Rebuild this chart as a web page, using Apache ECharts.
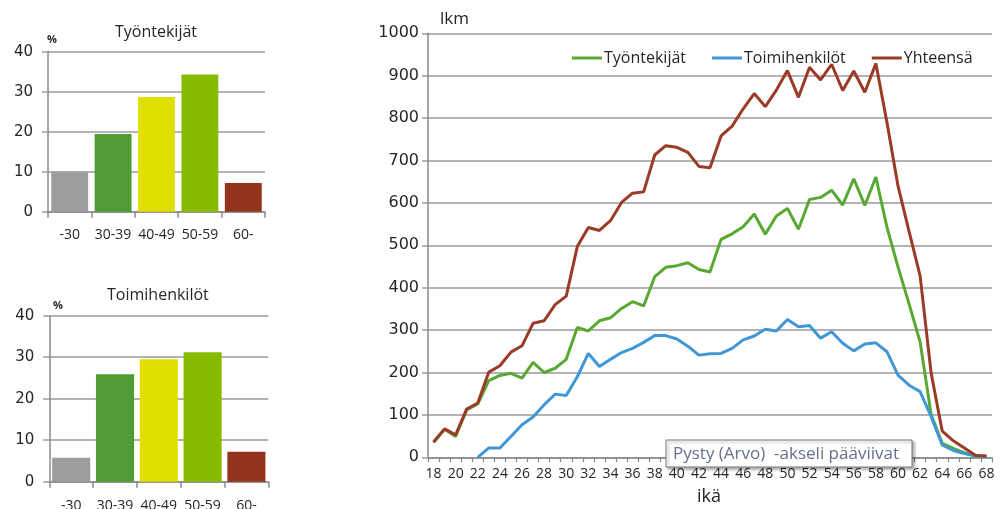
<!DOCTYPE html>
<html>
<head>
<meta charset="utf-8">
<script src="https://cdn.jsdelivr.net/npm/echarts@6/dist/echarts.min.js"></script>
<style>
  html, body { margin: 0; padding: 0; background: #ffffff; }
  #chart { width: 1002px; height: 509px; }
</style>
</head>
<body>
<div id="chart"></div>
<script>
// Age distribution of staff: share per age band (two small bar charts)
// and head count per single year of age (line chart).

const ageBands = ['-30', '30-39', '40-49', '50-59', '60-'];
const workersShare = [10.0, 19.4, 28.7, 34.3, 7.2];     // Työntekijät, %
const officialsShare = [5.8, 25.9, 29.5, 31.2, 7.2];    // Toimihenkilöt, %

const ages = ['18','19','20','21','22','23','24','25','26','27','28','29','30',
  '31','32','33','34','35','36','37','38','39','40','41','42','43','44','45',
  '46','47','48','49','50','51','52','53','54','55','56','57','58','59','60',
  '61','62','63','64','65','66','67','68'];

const workers = [35, 66, 49, 112, 126, 181, 193, 198, 187, 224, 200, 210, 231,
  306, 298, 322, 329, 351, 367, 357, 426, 448, 452, 459, 443, 437, 514, 527,
  544, 574, 526, 569, 587, 538, 608, 613, 630, 595, 657, 594, 661, 543, 449,
  362, 272, 100, 33, 21, 11, 3, 2];

const officials = [null, null, null, null, 0, 22, 22, 49, 77, 95, 124, 149, 146,
  190, 245, 214, 231, 247, 257, 271, 287, 287, 279, 262, 241, 244, 245, 257,
  277, 286, 302, 298, 325, 308, 311, 281, 296, 269, 251, 267, 270, 249, 194,
  170, 155, 96, 29, 16, 9, 3, 1];

const total = [36, 67, 53, 114, 128, 201, 216, 248, 263, 316, 322, 360, 380,
  497, 542, 535, 558, 601, 623, 626, 713, 735, 731, 719, 686, 683, 758, 781,
  822, 858, 827, 866, 912, 849, 920, 890, 927, 865, 911, 861, 929, 790, 640,
  533, 428, 198, 62, 39, 22, 5, 3];

const seriesNames = ['Työntekijät', 'Toimihenkilöt', 'Yhteensä'];
const yTicksMain = [0, 1000, 100];
const yTicksSmall = [0, 40, 10];

// styling
const bandColors = ['#9d9d9d', '#4f9c34', '#e1df00', '#86bb00', '#93341f'];
const lineColors = ['#58a832', '#3f97d5', '#9b3a26'];
const gridColor = '#9a9a9a';
const axisColor = '#8a8a8a';
const textColor = '#262626';
const sans = '"Open Sans", "Noto Sans", sans-serif';
const numFont = '"DejaVu Sans", sans-serif';
const plain = v => String(v);

function barData(values) {
  return values.map((v, i) => ({ value: v, itemStyle: { color: bandColors[i] } }));
}

function smallY(gridIndex) {
  return {
    type: 'value', gridIndex,
    min: yTicksSmall[0], max: yTicksSmall[1], interval: yTicksSmall[2],
    axisLine: { show: true, lineStyle: { color: axisColor, width: 1.5 } },
    axisTick: { show: true, length: 6, lineStyle: { color: gridColor, width: 1.5 } },
    axisLabel: { fontFamily: numFont, fontSize: 15, color: textColor, margin: 15, formatter: plain },
    splitLine: { lineStyle: { color: gridColor, width: 1.5 } }
  };
}

function smallX(gridIndex, margin) {
  return {
    type: 'category', gridIndex, data: ageBands,
    axisLine: { lineStyle: { color: axisColor, width: 1.5 } },
    axisTick: { show: true, length: 6, lineStyle: { color: axisColor, width: 1.5 } },
    axisLabel: { fontFamily: sans, fontSize: 14, color: textColor, margin, interval: 0 }
  };
}

const chart = echarts.init(document.getElementById('chart'), null, { renderer: 'canvas' });

chart.setOption({
  animation: false,
  backgroundColor: '#ffffff',
  textStyle: { fontFamily: sans },
  grid: [
    { left: 428, top: 33.3, width: 564, height: 424, outerBoundsMode: 'none' },
    { left: 48, top: 51.7, width: 217, height: 160, outerBoundsMode: 'none' },
    { left: 49.3, top: 315.7, width: 219, height: 166, outerBoundsMode: 'none' }
  ],
  legend: {
    data: seriesNames,
    left: 567, top: 45,
    icon: 'rect', itemWidth: 30, itemHeight: 3, itemGap: 26,
    textStyle: { fontFamily: sans, fontSize: 16, color: textColor, padding: [0, 0, 0, -3] }
  },
  xAxis: [
    {
      type: 'category', gridIndex: 0, data: ages, boundaryGap: true,
      axisLine: { lineStyle: { color: axisColor, width: 1.5 } },
      axisTick: { show: true, interval: 0, length: 5, lineStyle: { color: axisColor, width: 1.2 } },
      axisLabel: { interval: 1, fontFamily: sans, fontSize: 14, color: textColor, margin: 10 }
    },
    smallX(1, 16),
    smallX(2, 17)
  ],
  yAxis: [
    {
      type: 'value', gridIndex: 0,
      min: yTicksMain[0], max: yTicksMain[1], interval: yTicksMain[2],
      axisLine: { show: true, lineStyle: { color: axisColor, width: 1.5 } },
      axisTick: { show: true, length: 6, lineStyle: { color: gridColor, width: 1.5 } },
      axisLabel: { fontFamily: numFont, fontSize: 16, color: textColor, margin: 9, formatter: plain },
      splitLine: { lineStyle: { color: gridColor, width: 1.5 } }
    },
    smallY(1),
    smallY(2)
  ],
  series: [
    {
      name: seriesNames[0], type: 'line', xAxisIndex: 0, yAxisIndex: 0,
      data: workers, showSymbol: false, symbol: 'none',
      lineStyle: { color: lineColors[0], width: 3 }, itemStyle: { color: lineColors[0] }, z: 3
    },
    {
      name: seriesNames[1], type: 'line', xAxisIndex: 0, yAxisIndex: 0,
      data: officials, showSymbol: false, symbol: 'none',
      lineStyle: { color: lineColors[1], width: 3 }, itemStyle: { color: lineColors[1] }, z: 4
    },
    {
      name: seriesNames[2], type: 'line', xAxisIndex: 0, yAxisIndex: 0,
      data: total, showSymbol: false, symbol: 'none',
      lineStyle: { color: lineColors[2], width: 3 }, itemStyle: { color: lineColors[2] }, z: 5
    },
    {
      type: 'bar', xAxisIndex: 1, yAxisIndex: 1, data: barData(workersShare),
      barCategoryGap: '15%'
    },
    {
      type: 'bar', xAxisIndex: 2, yAxisIndex: 2, data: barData(officialsShare),
      barCategoryGap: '13%'
    }
  ],
  graphic: [
    { type: 'text', left: 115, top: 24, style: { text: 'Työntekijät', font: '16px ' + sans, fill: textColor } },
    { type: 'text', left: 107, top: 287, style: { text: 'Toimihenkilöt', font: '16px ' + sans, fill: textColor } },
    { type: 'text', left: 47, top: 34, style: { text: '%', font: 'bold 11px ' + sans, fill: textColor } },
    { type: 'text', left: 53, top: 300, style: { text: '%', font: 'bold 11px ' + sans, fill: textColor } },
    { type: 'text', left: 440, top: 11, style: { text: 'lkm', font: '17px ' + sans, fill: textColor } },
    { type: 'text', left: 697, top: 488, style: { text: 'ikä', font: '18px ' + sans, fill: textColor } },
    {
      type: 'rect', zlevel: 1, z: 100,
      shape: { x: 666, y: 440, width: 246, height: 27 },
      style: {
        fill: '#ffffff', stroke: '#7a7a7a', lineWidth: 1,
        shadowBlur: 3, shadowOffsetX: 2, shadowOffsetY: 2, shadowColor: 'rgba(0,0,0,0.35)'
      }
    },
    {
      type: 'text', zlevel: 1, z: 101, x: 673, y: 454,
      style: {
        text: 'Pysty (Arvo)  -akseli pääviivat', font: '17px ' + sans, fill: '#66708e',
        verticalAlign: 'middle', align: 'left'
      }
    }
  ]
});
</script>
</body>
</html>
